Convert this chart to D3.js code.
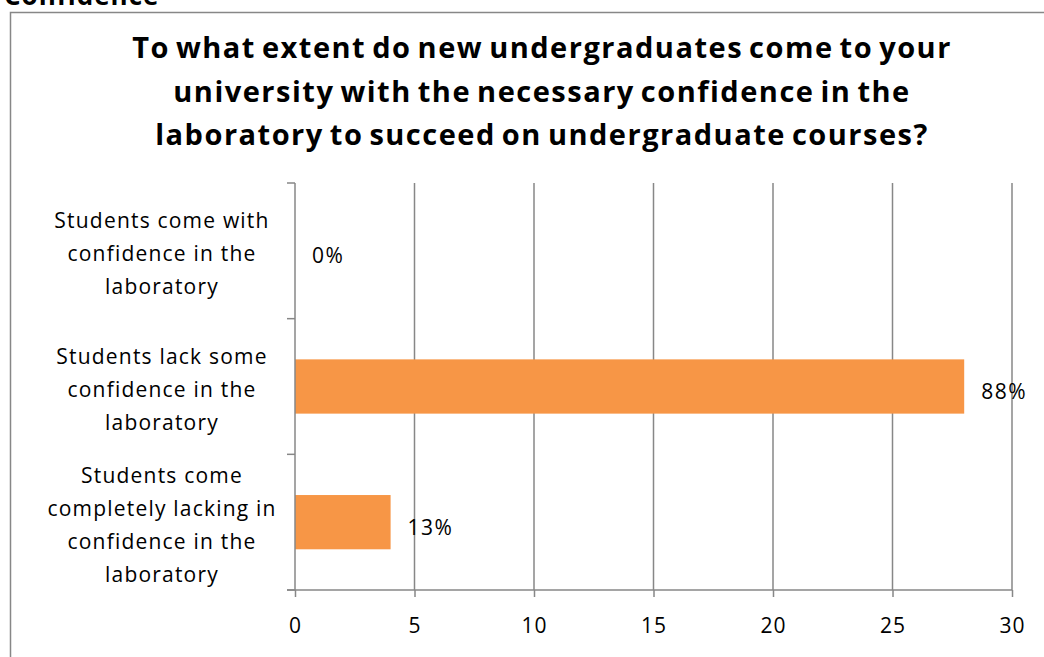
<!DOCTYPE html>
<html>
<head>
<meta charset="utf-8">
<script src="https://cdn.jsdelivr.net/npm/d3@7"></script>
<style>
  html, body { margin: 0; padding: 0; background: #fff; }
  svg { display: block; }
  text { font-family: "Open Sans", "Noto Sans", "Liberation Sans", sans-serif; fill: #000; }
</style>
</head>
<body>
<svg id="chart" width="1044" height="657"></svg>
<script>
// Survey responses (number of respondents per answer)
const categories = [
  ["Students come with", "confidence in the", "laboratory"],
  ["Students lack some", "confidence in the", "laboratory"],
  ["Students come", "completely lacking in", "confidence in the", "laboratory"]
];
const counts = [0, 28, 4];
const xTicks = [0, 5, 10, 15, 20, 25, 30];
const titleLines = [
  "To what extent do new undergraduates come to your",
  "university with the necessary confidence in the",
  "laboratory to succeed on undergraduate courses?"
];

const total = d3.sum(counts);
const pctLabels = counts.map(v => Math.round(v / total * 100) + "%");

const svg = d3.select("#chart");
const gridColor = "#878787";

// Section heading partly above the frame
svg.append("text")
  .attr("x", 4).attr("y", 5)
  .attr("font-size", 26).attr("font-weight", "bold")
  .attr("letter-spacing", 1)
  .text("Confidence");

// Chart frame
svg.append("rect")
  .attr("x", 10.5).attr("y", 12.5)
  .attr("width", 1100).attr("height", 700)
  .attr("fill", "none").attr("stroke", gridColor).attr("stroke-width", 1.5);

// Title
svg.append("g").selectAll("text").data(titleLines).join("text")
  .attr("x", 542).attr("y", (d, i) => 58 + i * 43.5)
  .attr("text-anchor", "middle")
  .attr("font-size", 29).attr("font-weight", "bold")
  .attr("letter-spacing", 1.5)
  .attr("word-spacing", -3)
  .text(d => d);

const x = d3.scaleLinear().domain([0, 30]).range([295, 1012]);
const idx = categories.map((d, i) => i);
const y = d3.scaleBand().domain(idx).range([183, 590])
  .paddingInner(0.6).paddingOuter(0.3);

// Vertical gridlines
svg.append("g").selectAll("line").data(xTicks.filter(t => t > 0)).join("line")
  .attr("x1", d => x(d)).attr("x2", d => x(d))
  .attr("y1", 183).attr("y2", 590)
  .attr("stroke", gridColor).attr("stroke-width", 1.5);

// Bars
svg.append("g").selectAll("rect").data(counts).join("rect")
  .attr("x", x(0))
  .attr("y", (d, i) => y(i))
  .attr("width", d => x(d) - x(0))
  .attr("height", y.bandwidth())
  .attr("fill", "#F79646");

// Value axis
const xAxis = svg.append("g")
  .attr("transform", "translate(0,590)")
  .call(d3.axisBottom(x).tickValues(xTicks).tickSize(7).tickPadding(21));
xAxis.select(".domain").remove();
xAxis.selectAll("line").attr("stroke", gridColor).attr("stroke-width", 1.5);
xAxis.selectAll("text")
  .attr("font-size", 21).attr("font-family", null).attr("fill", "#000")
  .attr("letter-spacing", 1);
svg.append("line")
  .attr("x1", 287).attr("x2", x(30))
  .attr("y1", 590).attr("y2", 590)
  .attr("stroke", gridColor).attr("stroke-width", 1.5);

// Category axis line and boundary ticks
svg.append("line")
  .attr("x1", x(0)).attr("x2", x(0)).attr("y1", 183).attr("y2", 590)
  .attr("stroke", gridColor).attr("stroke-width", 1.5);
const bounds = d3.range(categories.length + 1).map(i => 183 + i * (407 / categories.length));
svg.append("g").selectAll("line").data(bounds).join("line")
  .attr("x1", 287).attr("x2", x(0))
  .attr("y1", d => d).attr("y2", d => d)
  .attr("stroke", gridColor).attr("stroke-width", 1.5);

// Category labels
const lineH = 33.3;
const catG = svg.append("g").selectAll("text").data(categories).join("text")
  .attr("text-anchor", "middle")
  .attr("font-size", 21)
  .attr("letter-spacing", 1.2);
catG.each(function(lines, i) {
  const cy = y(i) + y.bandwidth() / 2 + 3;
  const top = cy - (lines.length - 1) * lineH / 2;
  d3.select(this).selectAll("tspan").data(lines).join("tspan")
    .attr("x", 162)
    .attr("y", (d, j) => top + j * lineH)
    .attr("dy", "0.35em")
    .text(d => d);
});

// Value labels
svg.append("g").selectAll("text").data(counts).join("text")
  .attr("x", d => x(d) + 17)
  .attr("y", (d, i) => y(i) + y.bandwidth() / 2 + 5)
  .attr("dy", "0.35em")
  .attr("font-size", 21)
  .attr("letter-spacing", 1.5)
  .text((d, i) => pctLabels[i]);
</script>
</body>
</html>
